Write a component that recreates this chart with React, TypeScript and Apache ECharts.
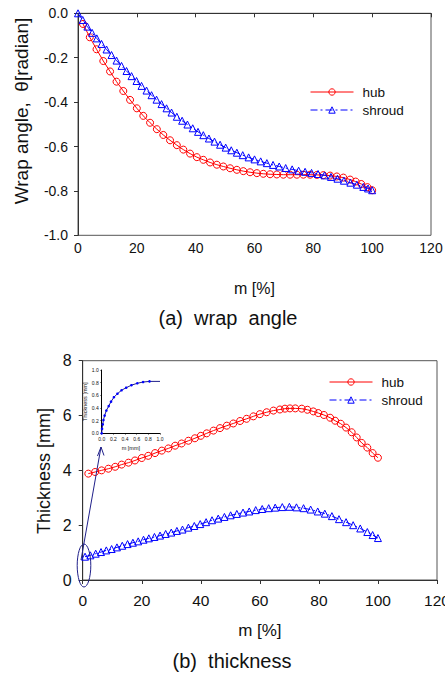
import React, { useEffect, useRef } from "react";
import * as echarts from "echarts";

// ---------- (a) wrap angle ----------
const xTicks = [0, 20, 40, 60, 80, 100, 120];
const wrapHubM = [1.7, 4.0, 6.3, 8.6, 10.9, 13.1, 15.4, 17.7, 20.0, 22.2, 24.5, 26.8, 29.0, 31.3, 33.6, 35.8, 38.1, 40.4, 42.6, 44.9, 47.2, 49.4, 51.7, 54.0, 56.2, 58.5, 60.8, 63.0, 65.3, 67.6, 69.8, 72.1, 74.4, 76.6, 78.9, 81.2, 83.4, 85.7, 88.0, 90.2, 92.5, 94.4, 96.3, 98.4, 100.0];
const wrapHub = [-0.048, -0.108, -0.162, -0.215, -0.262, -0.308, -0.350, -0.390, -0.428, -0.462, -0.493, -0.522, -0.548, -0.572, -0.594, -0.614, -0.632, -0.648, -0.660, -0.672, -0.682, -0.690, -0.698, -0.705, -0.711, -0.716, -0.720, -0.723, -0.725, -0.726, -0.727, -0.727, -0.727, -0.727, -0.727, -0.728, -0.729, -0.731, -0.735, -0.740, -0.749, -0.758, -0.769, -0.783, -0.797];
const wrapShroudM = [0, 1.6, 3.2, 4.8, 6.4, 8.0, 9.7, 11.4, 13.1, 14.8, 16.5, 18.2, 19.9, 21.6, 23.3, 25.0, 26.7, 28.4, 30.1, 31.8, 33.6, 35.4, 37.2, 39.0, 40.8, 42.6, 44.5, 46.4, 48.3, 50.2, 52.1, 54.0, 56.0, 58.0, 60.0, 62.1, 64.2, 66.3, 68.4, 70.6, 72.8, 75.0, 77.2, 79.4, 81.6, 83.8, 86.0, 88.2, 90.4, 92.6, 94.8, 97.0, 98.6, 100.0];
const wrapShroud = [0, -0.03, -0.06, -0.088, -0.113, -0.138, -0.163, -0.188, -0.213, -0.237, -0.26, -0.283, -0.305, -0.327, -0.348, -0.369, -0.389, -0.409, -0.428, -0.447, -0.466, -0.484, -0.501, -0.518, -0.534, -0.549, -0.564, -0.578, -0.592, -0.605, -0.617, -0.628, -0.639, -0.649, -0.658, -0.667, -0.675, -0.683, -0.69, -0.697, -0.703, -0.709, -0.714, -0.719, -0.724, -0.73, -0.737, -0.745, -0.754, -0.763, -0.772, -0.782, -0.789, -0.797];

// ---------- (b) thickness ----------
const thickHubM = [1.9, 4.2, 6.4, 8.7, 11.0, 13.2, 15.5, 17.7, 20.0, 22.2, 24.5, 26.8, 29.0, 31.3, 33.5, 35.8, 38.0, 40.0, 42.0, 44.3, 46.5, 48.8, 51.0, 53.3, 55.5, 57.8, 60.0, 62.3, 64.6, 66.8, 68.5, 70.2, 72.0, 74.2, 76.1, 78.1, 79.8, 81.7, 83.8, 85.5, 87.4, 89.2, 91.1, 92.8, 94.5, 96.4, 98.2, 100.0];
const thickHub = [3.88, 3.94, 4.0, 4.06, 4.13, 4.21, 4.28, 4.36, 4.45, 4.53, 4.63, 4.72, 4.8, 4.9, 4.98, 5.08, 5.17, 5.26, 5.35, 5.45, 5.54, 5.63, 5.71, 5.8, 5.88, 5.97, 6.05, 6.12, 6.18, 6.22, 6.25, 6.26, 6.26, 6.25, 6.21, 6.15, 6.09, 6.02, 5.92, 5.81, 5.7, 5.56, 5.39, 5.2, 5.0, 4.83, 4.63, 4.46];
const thickShroudM = [0.8, 2.6, 4.4, 6.2, 8.0, 9.8, 11.6, 13.4, 15.2, 17.0, 18.8, 20.6, 22.4, 24.3, 26.2, 28.1, 30.0, 31.9, 33.8, 35.8, 37.8, 39.8, 41.8, 43.8, 45.9, 48.0, 50.1, 52.2, 54.3, 56.4, 58.6, 60.8, 63.0, 65.2, 67.6, 70.0, 72.4, 74.8, 77.2, 79.6, 82.0, 84.4, 86.8, 89.2, 91.6, 94.0, 96.4, 98.2, 100.0];
const thickShroud = [0.85, 0.9, 0.96, 1.02, 1.08, 1.13, 1.19, 1.25, 1.31, 1.36, 1.41, 1.47, 1.52, 1.57, 1.62, 1.68, 1.73, 1.79, 1.84, 1.91, 1.97, 2.04, 2.11, 2.18, 2.24, 2.3, 2.36, 2.41, 2.46, 2.5, 2.55, 2.59, 2.62, 2.64, 2.66, 2.67, 2.65, 2.62, 2.57, 2.5, 2.42, 2.33, 2.22, 2.11, 2.0, 1.88, 1.75, 1.64, 1.53];

// ---------- inset ----------
const insetM = [0, 0.006, 0.018, 0.03, 0.05, 0.08, 0.12, 0.16, 0.21, 0.27, 0.34, 0.42, 0.51, 0.61, 0.71, 0.82];
const insetT = [0, 0.07, 0.14, 0.21, 0.28, 0.36, 0.43, 0.5, 0.57, 0.625, 0.68, 0.72, 0.76, 0.79, 0.81, 0.82];
const insetTailM = [0.82, 1.0];
const insetTailT = [0.82, 0.82];

const zip = (a: number[], b: number[]) => a.map((v, i) => [v, b[i]]);

const FONT = "'Liberation Sans', Arial, sans-serif";
const RED = "#ff0000";
const BLUE = "#0000ff";
const NAVY = "#20208a";
const AX = "#333";

export default function App() {
  const ref = useRef<HTMLDivElement>(null);
  useEffect(() => {
    if (!ref.current) return;
    const chart = echarts.init(ref.current, null, { renderer: "svg" });

    const axisCommon = {
      axisLine: { show: true, lineStyle: { color: AX, width: 1 } },
      axisTick: { show: true, length: 4, inside: false, lineStyle: { color: AX } },
      splitLine: { show: false },
    };

    const hubStyle = {
      type: "line",
      symbol: "circle",
      symbolSize: 7,
      itemStyle: { color: "rgba(255,255,255,0)", borderColor: RED, borderWidth: 1 },
      lineStyle: { color: RED, width: 1 },
    };
    const shroudStyle = {
      type: "line",
      symbol: "triangle",
      symbolSize: 7,
      itemStyle: { color: "rgba(255,255,255,0)", borderColor: BLUE, borderWidth: 1 },
      lineStyle: { color: BLUE, width: 1, type: [7, 3, 2, 3] },
    };

    const legendCommon = {
      orient: "vertical",
      data: ["hub", "shroud"],
      padding: 0,
      itemWidth: 43,
      itemHeight: 8,
      itemGap: 4,
      selectedMode: false,
      lineStyle: { width: 1 },
      itemStyle: { borderWidth: 1 },
      textStyle: { fontFamily: FONT, fontSize: 13.5, color: "#111", padding: [0, 0, 0, 4] },
    };

    const gridBase = { containLabel: false, outerBoundsMode: "none" };

    chart.setOption({
      animation: false,
      backgroundColor: "#fff",
      grid: [
        { ...gridBase, left: 78, top: 13.3, width: 353, height: 222, show: true, borderColor: "#555", borderWidth: 1 },
        { ...gridBase, left: 82.7, top: 360.7, width: 354.3, height: 219.3, show: true, borderColor: "#555", borderWidth: 1 },
        { ...gridBase, left: 101.7, top: 370, width: 58.3, height: 63.3 },
      ],
      xAxis: [
        {
          gridIndex: 0, type: "value", min: 0, max: 120, interval: 20, ...axisCommon,
          axisLabel: { fontFamily: FONT, fontSize: 14, color: "#111", margin: 6 },
          name: "m [%]", nameLocation: "middle", nameGap: 45,
          nameTextStyle: { fontFamily: FONT, fontSize: 16, color: "#111" },
        },
        {
          gridIndex: 1, type: "value", min: 0, max: 120, interval: 20, ...axisCommon,
          axisLabel: { fontFamily: FONT, fontSize: 15.5, color: "#111", margin: 12 },
          name: "m [%]", nameLocation: "middle", nameGap: 42,
          nameTextStyle: { fontFamily: FONT, fontSize: 17, color: "#111" },
        },
        {
          gridIndex: 2, type: "value", min: 0, max: 1, interval: 0.2,
          axisLine: { show: true, lineStyle: { color: "#000", width: 1 } },
          axisTick: { show: true, length: 1.5, lineStyle: { color: "#000", width: 0.5 } },
          splitLine: { show: false },
          axisLabel: { fontFamily: FONT, fontSize: 5, color: "#111", margin: 3, formatter: (v: number) => v.toFixed(1) },
          name: "m [mm]", nameLocation: "middle", nameGap: 12,
          nameTextStyle: { fontFamily: FONT, fontSize: 5.5, color: "#111" },
        },
      ],
      yAxis: [
        {
          gridIndex: 0, type: "value", min: -1, max: 0, interval: 0.2, ...axisCommon,
          axisLabel: { fontFamily: FONT, fontSize: 14, color: "#111", margin: 10, formatter: (v: number) => v.toFixed(1) },
        },
        {
          gridIndex: 1, type: "value", min: 0, max: 8, interval: 2, ...axisCommon,
          axisLabel: { fontFamily: FONT, fontSize: 16, color: "#111", margin: 11 },
        },
        {
          gridIndex: 2, type: "value", min: 0, max: 1, interval: 0.2,
          axisLine: { show: true, lineStyle: { color: "#000", width: 1 } },
          axisTick: { show: true, length: 1.5, lineStyle: { color: "#000", width: 0.5 } },
          splitLine: { show: false },
          axisLabel: { fontFamily: FONT, fontSize: 5, color: "#111", margin: 3, formatter: (v: number) => v.toFixed(1) },
          name: "Thickness [mm]", nameLocation: "middle", nameGap: 12,
          nameTextStyle: { fontFamily: FONT, fontSize: 5.5, color: "#111" },
        },
      ],
      legend: [
        { ...legendCommon, left: 310, top: 85 },
        { ...legendCommon, left: 329, top: 375 },
      ],
      series: [
        { ...hubStyle, name: "hub", xAxisIndex: 0, yAxisIndex: 0, data: zip(wrapHubM, wrapHub), z: 3 },
        { ...shroudStyle, name: "shroud", xAxisIndex: 0, yAxisIndex: 0, data: zip(wrapShroudM, wrapShroud), z: 4 },
        { ...hubStyle, name: "hub", xAxisIndex: 1, yAxisIndex: 1, data: zip(thickHubM, thickHub), z: 3 },
        { ...shroudStyle, name: "shroud", xAxisIndex: 1, yAxisIndex: 1, data: zip(thickShroudM, thickShroud), z: 4 },
        {
          type: "line", name: "inset", xAxisIndex: 2, yAxisIndex: 2, data: zip(insetM, insetT),
          symbol: "circle", symbolSize: 2.6, itemStyle: { color: BLUE }, lineStyle: { color: NAVY, width: 1 },
        },
        {
          type: "line", name: "insetTail", xAxisIndex: 2, yAxisIndex: 2, data: zip(insetTailM, insetTailT),
          showSymbol: false, symbol: "none", lineStyle: { color: NAVY, width: 1 },
        },
      ],
      graphic: [
        {
          type: "text", x: 21, y: 111, rotation: Math.PI / 2,
          style: { text: "Wrap angle,  θ[radian]", font: `19px ${FONT}`, fill: "#111", textAlign: "center", textVerticalAlign: "middle" },
        },
        {
          type: "text", x: 44, y: 471, rotation: Math.PI / 2,
          style: { text: "Thickness [mm]", font: `18px ${FONT}`, fill: "#111", textAlign: "center", textVerticalAlign: "middle" },
        },
        {
          type: "text", x: 228, y: 318,
          style: { text: "(a)  wrap  angle", font: `20px ${FONT}`, fill: "#111", textAlign: "center", textVerticalAlign: "middle" },
        },
        {
          type: "text", x: 232, y: 661,
          style: { text: "(b)  thickness", font: `20px ${FONT}`, fill: "#111", textAlign: "center", textVerticalAlign: "middle" },
        },
        {
          type: "ellipse", shape: { cx: 84, cy: 565.5, rx: 6.8, ry: 21.5 },
          style: { fill: "none", stroke: NAVY, lineWidth: 1 }, z: 10,
        },
        {
          type: "line", shape: { x1: 81, y1: 560, x2: 101, y2: 447 },
          style: { stroke: NAVY, lineWidth: 1 }, z: 10,
        },
        {
          type: "polyline", shape: { points: [[97.5, 456], [101, 447], [104, 455.5]] },
          style: { stroke: NAVY, lineWidth: 1, fill: "none" }, z: 10,
        },
      ],
    });
    return () => chart.dispose();
  }, []);
  return <div ref={ref} style={{ position: "fixed", left: 0, top: 0, width: 445, height: 674 }} />;
}
